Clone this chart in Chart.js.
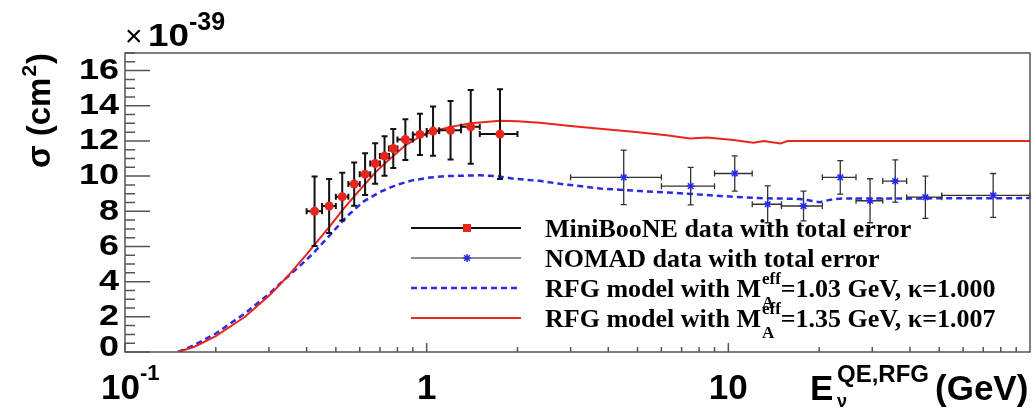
<!DOCTYPE html>
<html>
<head>
<meta charset="utf-8">
<script src="https://cdn.jsdelivr.net/npm/chart.js@4.4.1/dist/chart.umd.min.js"></script>
<style>
html, body { margin: 0; padding: 0; background: #fff; }
#wrap { width: 1036px; height: 410px; }
</style>
</head>
<body>
<div id="wrap"><canvas id="xsec" width="1036" height="410"></canvas></div>
<script>
// MiniBooNE data, sigma in 10^-39 cm^2, bins in GeV
var mbEnergy = [0.425, 0.475, 0.525, 0.575, 0.625, 0.675, 0.725, 0.775, 0.85, 0.95, 1.05, 1.2, 1.4, 1.75];
var mbEnergyErr = [0.025, 0.025, 0.025, 0.025, 0.025, 0.025, 0.025, 0.025, 0.05, 0.05, 0.05, 0.1, 0.1, 0.25];
var mbSigma = [8.0, 8.3, 8.83, 9.55, 10.11, 10.72, 11.14, 11.57, 12.08, 12.37, 12.56, 12.61, 12.8, 12.39];
var mbSigmaErr = [1.98, 1.54, 1.36, 1.23, 1.19, 1.15, 1.12, 1.11, 1.16, 1.17, 1.4, 1.66, 2.1, 2.55];

// NOMAD data
var nomadEnergy = [4.5, 7.5, 10.5, 13.5, 17.75, 23.5, 29.5, 35.75, 45, 75.5];
var nomadEnergyErr = [1.5, 1.5, 1.5, 1.5, 2.75, 3, 3, 3.25, 6, 24.5];
var nomadSigma = [9.93, 9.43, 10.15, 8.4, 8.3, 9.93, 8.6, 9.72, 8.8, 8.9];
var nomadSigmaErr = [1.55, 1.07, 1.0, 1.05, 0.85, 0.95, 1.25, 1.2, 1.2, 1.25];

// RFG model, MA = 1.03 GeV, kappa = 1.000
var rfg103Energy = [0.15, 0.17, 0.2, 0.25, 0.3, 0.327, 0.38, 0.42, 0.478, 0.543, 0.617, 0.7, 0.795, 0.903, 1.026, 1.165, 1.5, 1.71, 1.94, 2.37, 2.77, 3.75, 5.09, 6.91, 9.38, 12.7, 17.3, 20.1, 21.7, 23.4, 100];
var rfg103Sigma = [0, 0.4, 1.05, 2.2, 3.3, 3.9, 4.9, 5.6, 6.65, 7.7, 8.55, 9.1, 9.5, 9.77, 9.92, 10.0, 10.05, 10.0, 9.85, 9.73, 9.56, 9.3, 9.15, 9.03, 8.87, 8.75, 8.7, 8.52, 8.65, 8.72, 8.75];

// RFG model, MA = 1.35 GeV, kappa = 1.007
var rfg135Energy = [0.15, 0.17, 0.2, 0.25, 0.3, 0.327, 0.35, 0.4, 0.425, 0.475, 0.525, 0.575, 0.625, 0.675, 0.725, 0.775, 0.85, 0.95, 1.05, 1.2, 1.4, 1.75, 2.0, 2.37, 3.0, 3.75, 4.84, 6.24, 7.46, 8.5, 10.4, 12.1, 13.1, 14.9, 15.7, 20, 100];
var rfg135Sigma = [0, 0.3, 0.9, 2.0, 3.2, 3.85, 4.4, 5.55, 6.1, 7.1, 8.05, 8.85, 9.55, 10.2, 10.7, 11.15, 11.75, 12.25, 12.55, 12.8, 13.0, 13.15, 13.12, 13.03, 12.85, 12.7, 12.52, 12.33, 12.14, 12.2, 12.05, 11.9, 12.0, 11.86, 12.0, 12.0, 12.0];

var yTicks = [0, 2, 4, 6, 8, 10, 12, 14, 16];
var xTickValues = [0.1, 1, 10];
var xTickLabels = ['10', '1', '10'];
var xTickExponents = ['-1', '', ''];
var legendLabels = ['MiniBooNE data with total error', 'NOMAD data with total error', '=1.03 GeV, \u03ba=1.000', '=1.35 GeV, \u03ba=1.007'];

function toPoints(xs, ys) {
    var pts = [];
    for (var i = 0; i < xs.length; i++) pts.push({ x: xs[i], y: ys[i] });
    return pts;
}

var RED = '#e8261e';
var BLUE = '#2a2ae6';

function drawErrors(chart, ds) {
    var ctx = chart.ctx;
    var xs = chart.scales.x, ys = chart.scales.y;
    ctx.save();
    ctx.strokeStyle = ds.barColor;
    ctx.lineWidth = ds.barWidth;
    var cap = 3;
    for (var i = 0; i < ds.data.length; i++) {
        var p = ds.data[i];
        var cx = xs.getPixelForValue(p.x), cy = ys.getPixelForValue(p.y);
        var x1 = xs.getPixelForValue(p.x - ds.errX[i]), x2 = xs.getPixelForValue(p.x + ds.errX[i]);
        var y1 = ys.getPixelForValue(p.y + ds.errY[i]), y2 = ys.getPixelForValue(p.y - ds.errY[i]);
        ctx.beginPath();
        ctx.moveTo(x1, cy); ctx.lineTo(x2, cy);
        ctx.moveTo(cx, y1); ctx.lineTo(cx, y2);
        ctx.moveTo(cx - cap, y1); ctx.lineTo(cx + cap, y1);
        ctx.moveTo(cx - cap, y2); ctx.lineTo(cx + cap, y2);
        ctx.moveTo(x1, cy - cap); ctx.lineTo(x1, cy + cap);
        ctx.moveTo(x2, cy - cap); ctx.lineTo(x2, cy + cap);
        ctx.stroke();
    }
    ctx.restore();
}

function drawSupText(ctx, x, y, base, sup, baseFont, supFont, supRise) {
    ctx.font = baseFont;
    ctx.fillText(base, x, y);
    var w = ctx.measureText(base).width;
    ctx.font = supFont;
    ctx.fillText(sup, x + w + 1, y - supRise);
    return x + w + 1 + ctx.measureText(sup).width;
}

var decor = {
    id: 'decor',
    beforeDatasetDraw: function(chart, args) {
        var ds = chart.data.datasets[args.index];
        if (ds.errX) drawErrors(chart, ds);
    },
    afterDraw: function(chart) {
        var ctx = chart.ctx;
        var a = chart.chartArea;
        var xs = chart.scales.x, ys = chart.scales.y;
        ctx.save();

        // frame
        ctx.strokeStyle = '#555';
        ctx.lineWidth = 1.5;
        ctx.strokeRect(a.left, a.top, a.right - a.left, a.bottom - a.top);

        // y ticks
        ctx.beginPath();
        for (var v = 0; v <= 17.001; v += 0.5) {
            var py = ys.getPixelForValue(v);
            var len = (Math.abs(v % 2) < 0.001) ? 25 : 10;
            ctx.moveTo(a.left, py); ctx.lineTo(a.left + len, py);
        }
        // x ticks
        [0.1, 1, 10].forEach(function(d) {
            for (var k = 1; k <= 9; k++) {
                var px = xs.getPixelForValue(k * d);
                var l = (k === 1) ? 9 : 5;
                ctx.moveTo(px, a.bottom); ctx.lineTo(px, a.bottom - l);
            }
        });
        ctx.stroke();

        ctx.fillStyle = '#000';
        // y tick labels
        ctx.textAlign = 'right';
        ctx.textBaseline = 'middle';
        yTicks.forEach(function(t) {
            var py = ys.getPixelForValue(t);
            if (t === 0) py -= 4;
            ctx.save();
            ctx.translate(119, py);
            ctx.scale(1.2, 1);
            ctx.font = 'bold 30px "Liberation Sans", Arial, sans-serif';
            ctx.fillText(String(t), 0, 0);
            ctx.restore();
        });

        // x tick labels
        ctx.textBaseline = 'alphabetic';
        xTickValues.forEach(function(v, i) {
            var px = xs.getPixelForValue(v);
            ctx.font = 'bold 35px "Liberation Sans", Arial, sans-serif';
            if (xTickExponents[i]) {
                ctx.textAlign = 'right';
                ctx.fillText(xTickLabels[i], px + 15, 399);
                ctx.textAlign = 'left';
                ctx.font = 'bold 22px "Liberation Sans", Arial, sans-serif';
                ctx.fillText(xTickExponents[i], px + 15, 380);
            } else {
                ctx.textAlign = 'center';
                ctx.fillText(xTickLabels[i], px, 399);
            }
        });

        // x title
        ctx.textAlign = 'left';
        ctx.font = 'bold 35px "Liberation Sans", Arial, sans-serif';
        ctx.fillText('E', 810, 400);
        ctx.font = 'bold 24px "Liberation Sans", Arial, sans-serif';
        ctx.fillText('QE,RFG', 837, 382);
        ctx.font = 'bold 18px "Liberation Sans", Arial, sans-serif';
        ctx.fillText('\u03bd', 837, 407);
        ctx.font = 'bold 35px "Liberation Sans", Arial, sans-serif';
        ctx.fillText('(GeV)', 935, 400);

        // exponent above y axis
        ctx.font = '30px "Liberation Sans", Arial, sans-serif';
        ctx.fillText('\u00d7', 125, 46);
        ctx.save();
        ctx.translate(148, 46);
        ctx.scale(1.15, 1);
        ctx.font = 'bold 32px "Liberation Sans", Arial, sans-serif';
        ctx.fillText('10', 0, 0);
        ctx.restore();
        ctx.font = 'bold 25px "Liberation Sans", Arial, sans-serif';
        ctx.fillText('-39', 189, 30);

        // y title
        ctx.save();
        ctx.translate(50, 168);
        ctx.rotate(-Math.PI / 2);
        ctx.textAlign = 'left';
        var xe = drawSupText(ctx, 0, 0, '\u03c3 (cm', '2', 'bold 33px "Liberation Sans", Arial, sans-serif', 'bold 21px "Liberation Sans", Arial, sans-serif', 14);
        ctx.font = 'bold 33px "Liberation Sans", Arial, sans-serif';
        ctx.fillText(')', xe + 1, 0);
        ctx.restore();

        // legend
        var rows = [228, 258, 288, 318];
        var lx1 = 411, lx2 = 521, lxm = 467, tx = 545;
        ctx.lineWidth = 2;
        ctx.strokeStyle = '#111';
        ctx.beginPath(); ctx.moveTo(lx1, rows[0]); ctx.lineTo(lx2, rows[0]); ctx.stroke();
        ctx.fillStyle = RED;
        ctx.fillRect(lxm - 4, rows[0] - 4, 8, 8);
        ctx.strokeStyle = '#666';
        ctx.lineWidth = 1.5;
        ctx.beginPath(); ctx.moveTo(lx1, rows[1]); ctx.lineTo(lx2, rows[1]); ctx.stroke();
        ctx.strokeStyle = BLUE;
        ctx.beginPath();
        for (var k = 0; k < 4; k++) {
            var ang = k * Math.PI / 4;
            ctx.moveTo(lxm - 4 * Math.cos(ang), rows[1] - 4 * Math.sin(ang));
            ctx.lineTo(lxm + 4 * Math.cos(ang), rows[1] + 4 * Math.sin(ang));
        }
        ctx.stroke();
        ctx.lineWidth = 2.5;
        ctx.setLineDash([6, 4]);
        ctx.beginPath(); ctx.moveTo(lx1, rows[2]); ctx.lineTo(lx2, rows[2]); ctx.stroke();
        ctx.setLineDash([]);
        ctx.strokeStyle = RED;
        ctx.lineWidth = 2;
        ctx.beginPath(); ctx.moveTo(lx1, rows[3]); ctx.lineTo(lx2, rows[3]); ctx.stroke();

        ctx.fillStyle = '#000';
        ctx.textAlign = 'left';
        var serif = 'bold 26px "Liberation Serif", "Times New Roman", serif';
        ctx.font = serif;
        ctx.fillText(legendLabels[0], tx, rows[0] + 9);
        ctx.fillText(legendLabels[1], tx, rows[1] + 9);
        [2, 3].forEach(function(r) {
            var by = rows[r] + 9;
            ctx.font = serif;
            var s = 'RFG model with M';
            ctx.fillText(s, tx, by);
            var x0 = tx + ctx.measureText(s).width;
            ctx.font = 'bold 17px "Liberation Serif", "Times New Roman", serif';
            ctx.fillText('eff', x0 + 1, by - 13);
            ctx.fillText('A', x0 + 1, by + 11);
            var x1 = x0 + 1 + ctx.measureText('eff').width;
            ctx.font = serif;
            ctx.fillText(legendLabels[r], x1, by);
        });
        ctx.restore();
    }
};

var chart = new Chart(document.getElementById('xsec').getContext('2d'), {
    type: 'scatter',
    data: {
        datasets: [{
            label: 'RFG model with MA=1.03 GeV',
            data: toPoints(rfg103Energy, rfg103Sigma),
            showLine: true,
            borderColor: BLUE,
            borderWidth: 2.5,
            borderDash: [6, 4],
            pointRadius: 0,
            tension: 0,
            order: 4
        }, {
            label: 'RFG model with MA=1.35 GeV',
            data: toPoints(rfg135Energy, rfg135Sigma),
            showLine: true,
            borderColor: RED,
            borderWidth: 2,
            pointRadius: 0,
            tension: 0,
            order: 3
        }, {
            label: 'NOMAD data with total error',
            data: toPoints(nomadEnergy, nomadSigma),
            errX: nomadEnergyErr,
            errY: nomadSigmaErr,
            barColor: '#333',
            barWidth: 1.3,
            pointStyle: 'star',
            pointRadius: 4,
            borderColor: BLUE,
            borderWidth: 1.5,
            order: 2
        }, {
            label: 'MiniBooNE data with total error',
            data: toPoints(mbEnergy, mbSigma),
            errX: mbEnergyErr,
            errY: mbSigmaErr,
            barColor: '#111',
            barWidth: 2,
            pointStyle: 'circle',
            pointRadius: 4.5,
            backgroundColor: RED,
            borderColor: RED,
            borderWidth: 0,
            order: 1
        }]
    },
    options: {
        responsive: false,
        devicePixelRatio: 1,
        animation: false,
        layout: { padding: { left: 125, right: 6, top: 53, bottom: 58 } },
        plugins: { legend: { display: false }, tooltip: { enabled: false } },
        scales: {
            x: { type: 'logarithmic', min: 0.1, max: 100, display: false },
            y: { type: 'linear', min: 0, max: 17, display: false }
        }
    },
    plugins: [decor]
});
</script>
</body>
</html>
